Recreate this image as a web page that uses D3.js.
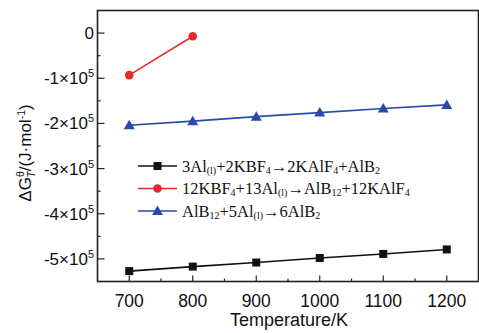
<!DOCTYPE html>
<html><head><meta charset="utf-8">
<script src="https://cdn.jsdelivr.net/npm/d3@7"></script>
<style>body{margin:0;background:#fff}svg{display:block}</style>
</head><body><svg id="c" width="479" height="333"></svg>
<script>
const temps = [700, 800, 900, 1000, 1100, 1200];
const seriesBlack = [-5.27e5, -5.17e5, -5.08e5, -4.98e5, -4.89e5, -4.79e5];
const seriesRed = [-0.93e5, -0.07e5];
const seriesBlue = [-2.04e5, -1.95e5, -1.85e5, -1.76e5, -1.67e5, -1.59e5];
const xTicks = [700, 800, 900, 1000, 1100, 1200];
const yTicks = [0, -1e5, -2e5, -3e5, -4e5, -5e5];
const yTickLabels = ["0", "-1×10", "-2×10", "-3×10", "-4×10", "-5×10"];

const svg = d3.select("#c");
const L = 97.5, R = 478.5, T = 10.5, B = 281.5;
const x = d3.scaleLinear().domain([650, 1250]).range([L, R]);
const y = d3.scaleLinear().domain([-5.5e5, 0.5e5]).range([B, T]);
const SANS = "Liberation Sans, Arial, sans-serif";

// frame
svg.append("rect").attr("x", L).attr("y", T).attr("width", R - L).attr("height", B - T)
  .attr("fill", "none").attr("stroke", "#222").attr("stroke-width", 1.6);

// x ticks (inward)
const gx = svg.append("g");
xTicks.forEach(v => gx.append("line").attr("x1", x(v)).attr("x2", x(v)).attr("y1", B).attr("y2", B - 6).attr("stroke", "#222").attr("stroke-width", 1.2));
d3.range(750, 1250, 100).forEach(v => gx.append("line").attr("x1", x(v)).attr("x2", x(v)).attr("y1", B).attr("y2", B - 3).attr("stroke", "#222").attr("stroke-width", 1.2));
xTicks.forEach(v => gx.append("text").attr("x", x(v)).attr("y", 306.5).attr("text-anchor", "middle")
  .attr("font-family", SANS).attr("font-size", 17.5).attr("fill", "#111").text(v));

// y ticks (inward)
const gy = svg.append("g");
yTicks.forEach(v => gy.append("line").attr("x1", L).attr("x2", L + 7).attr("y1", y(v)).attr("y2", y(v)).attr("stroke", "#222").attr("stroke-width", 1.2));
d3.range(-5.5e5, 0.5e5, 1e5).forEach(v => gy.append("line").attr("x1", L).attr("x2", L + 3).attr("y1", y(v)).attr("y2", y(v)).attr("stroke", "#222").attr("stroke-width", 1.2));
yTicks.forEach((v, i) => {
  const t = gy.append("text").attr("x", 94).attr("y", y(v) + 6).attr("text-anchor", "end")
    .attr("font-family", SANS).attr("font-size", 17).attr("fill", "#111");
  t.append("tspan").text(yTickLabels[i]);
  if (v !== 0) t.append("tspan").attr("dy", -7).attr("font-size", 11).text("5");
});

// axis titles
svg.append("text").attr("x", 289).attr("y", 326).attr("text-anchor", "middle")
  .attr("font-family", SANS).attr("font-size", 18).attr("fill", "#111").text("Temperature/K");
const yl = svg.append("text").attr("transform", "translate(31,153) rotate(-90)").attr("text-anchor", "middle")
  .attr("font-family", SANS).attr("font-size", 17).attr("fill", "#111");
yl.append("tspan").text("ΔG");
yl.append("tspan").attr("font-size", 10.5).attr("dy", -7).text("θ");
yl.append("tspan").attr("font-size", 10.5).attr("font-style", "italic").attr("dx", -6.5).attr("dy", 11).text("T");
yl.append("tspan").attr("dy", -4).text("/(J·mol");
yl.append("tspan").attr("font-size", 10.5).attr("dy", -6).text("-1");
yl.append("tspan").attr("dy", 6).text(")");

// series
const line = d3.line().x(d => x(d[0])).y(d => y(d[1]));
function drawSeries(vals, color, marker) {
  const pts = vals.map((v, i) => [temps[i], v]);
  svg.append("path").datum(pts).attr("d", line).attr("fill", "none").attr("stroke", color).attr("stroke-width", 1.6);
  pts.forEach(p => drawMarker(x(p[0]), y(p[1]), color, marker));
}
function drawMarker(cx, cy, color, marker) {
  if (marker === "square") svg.append("rect").attr("x", cx - 4).attr("y", cy - 4).attr("width", 8).attr("height", 8).attr("fill", color);
  else if (marker === "circle") svg.append("circle").attr("cx", cx).attr("cy", cy).attr("r", 4.3).attr("fill", color);
  else svg.append("path").attr("d", `M${cx},${cy - 5.5}L${cx + 5.5},${cy + 4}L${cx - 5.5},${cy + 4}Z`).attr("fill", color);
}
drawSeries(seriesBlack, "#111", "square");
drawSeries(seriesRed, "#e8292b", "circle");
drawSeries(seriesBlue, "#2a49a8", "triangle");

// legend
const legend = [
  { color: "#111", marker: "square", parts: [["3Al"], ["(l)", "sub"], ["+2KBF"], ["4", "sub"], ["→2KAlF"], ["4", "sub"], ["+AlB"], ["2", "sub"]] },
  { color: "#e8292b", marker: "circle", parts: [["12KBF"], ["4", "sub"], ["+13Al"], ["(l)", "sub"], ["→AlB"], ["12", "sub"], ["+12KAlF"], ["4", "sub"]] },
  { color: "#2a49a8", marker: "triangle", parts: [["AlB"], ["12", "sub"], ["+5Al"], ["(l)", "sub"], ["→6AlB"], ["2", "sub"]] }
];
const rowsY = [166, 188.5, 211];
legend.forEach((it, i) => {
  const yy = rowsY[i];
  svg.append("line").attr("x1", 138).attr("x2", 177).attr("y1", yy).attr("y2", yy).attr("stroke", it.color).attr("stroke-width", 1.6);
  drawMarker(157.5, yy, it.color, it.marker);
  const t = svg.append("text").attr("x", 182).attr("y", yy + 5.5).attr("font-family", "Liberation Serif, Times New Roman, serif")
    .attr("font-size", 16.5).attr("fill", "#111");
  let prevSub = false;
  it.parts.forEach(p => {
    const sub = p[1] === "sub";
    const ts = t.append("tspan").text(p[0]);
    if (sub && !prevSub) ts.attr("dy", 2).attr("font-size", 10);
    else if (!sub && prevSub) ts.attr("dy", -2);
    prevSub = sub;
  });
});
</script></body></html>
